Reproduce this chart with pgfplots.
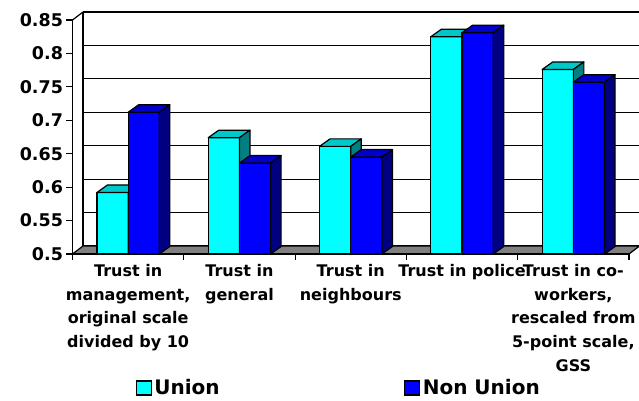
\documentclass[border=0pt]{standalone}
\usepackage{fontspec}
\setmainfont{DejaVu Sans}
\usepackage{pgfplots}
\usepackage{pgfplotstable}
\pgfplotsset{compat=1.18}

\definecolor{unionfront}{RGB}{0,255,255}
\definecolor{uniontop}{RGB}{0,200,200}
\definecolor{unionside}{RGB}{0,128,128}
\definecolor{nonfront}{RGB}{0,0,255}
\definecolor{nontop}{RGB}{0,0,200}
\definecolor{nonside}{RGB}{0,0,128}
\definecolor{floorgray}{RGB}{128,128,128}

% x = category, u = union, n = non union
\pgfplotstableread{
x u n
0 0.592 0.712
1 0.674 0.636
2 0.661 0.645
3 0.825 0.831
4 0.776 0.757
}\trust

\pgfdeclareplotmark{nothing}{}
\def\bbw{15.6pt}  % half bar width
\def\bdx{10.5pt}  % depth offset
\def\bdy{7.5pt}

% top and side faces of the columns, drawn at each bar top
\pgfplotsset{
  depth faces/.style n args={3}{
    only marks, mark=nothing, scatter, forget plot, point meta=y,
    visualization depends on={(\thisrow{#3}-0.5)*668.571 \as \hh},
    scatter/@pre marker code/.code={
      \filldraw[fill=#1, draw=black, line width=1.2pt, line join=round]
        (-\bbw,0pt) -- (\bbw,0pt) -- (\bbw+\bdx,\bdy) -- (-\bbw+\bdx,\bdy) -- cycle;
      \filldraw[fill=#2, draw=black, line width=1.2pt, line join=round]
        (\bbw,0pt) -- (\bbw+\bdx,\bdy) -- (\bbw+\bdx,{\bdy-\hh*1pt}) -- (\bbw,{-\hh*1pt}) -- cycle;
    },
    scatter/@post marker code/.code={},
  },
}

\begin{document}
\begin{tikzpicture}[x=1pt,y=1pt]
\useasboundingbox (0,0) rectangle (639,400);

% back wall with grid
\begin{axis}[
  at={(83pt,154pt)}, anchor=south west,
  scale only axis, width=556.5pt, height=234pt,
  xmin=-0.5, xmax=4.5, ymin=0.5, ymax=0.85,
  axis x line=none, axis y line=left, axis line style={-, line width=1.2pt},
  xtick=\empty, ytick={0.5,0.55,0.6,0.65,0.7,0.75,0.8,0.85}, yticklabels={},
  major tick length=0pt,
  ymajorgrids, grid style={black, line width=1.2pt},
]
\end{axis}

% floor and left edge
\filldraw[fill=floorgray, draw=black, line width=1.2pt, line join=round]
  (72.5,146) -- (629,146) -- (639.5,154) -- (83,154) -- cycle;
\draw[line width=1.2pt] (72.5,380) -- (83,388);

\begin{axis}[
  at={(72.5pt,146pt)}, anchor=south west,
  scale only axis, width=556.5pt, height=234pt,
  xmin=-0.5, xmax=4.5, ymin=0.5, ymax=0.85,
  clip marker paths=true,
  axis x line=bottom, axis y line=left, axis line style={-, line width=1.2pt},
  tick align=outside, major tick length=6pt, tick style={black, line width=1.2pt},
  xtick={-0.5,0.5,1.5,2.5,3.5,4.5}, xticklabels={},
  extra x ticks={0,1,2,3,4},
  extra x tick labels={{Trust in\\management,\\original scale\\divided by 10},
    {Trust in\\general}, {Trust in\\neighbours}, {Trust in police},
    {Trust in co-\\workers,\\rescaled from\\5-point scale,\\GSS}},
  extra x tick style={major tick length=0pt},
  xticklabel style={align=center, anchor=north, yshift=-7pt,
    font=\fontsize{16}{23.6}\selectfont\bfseries},
  ytick={0.5,0.55,0.6,0.65,0.7,0.75,0.8,0.85},
  yticklabels={0.5,0.55,0.6,0.65,0.7,0.75,0.8,0.85},
  yticklabel style={font=\fontsize{17.5}{20}\selectfont\bfseries},
  legend columns=2,
  legend style={at={(0.113,-0.5726)}, anchor=west, draw=none, fill=none,
    inner sep=0pt, font=\fontsize{20}{22}\selectfont\bfseries,
    nodes={inner sep=2.5pt},
    /tikz/every even column/.append style={column sep=182pt}},
  legend image code/.code={\filldraw[#1, line width=1.2pt] (0pt,-7pt) rectangle (15pt,7pt);},
]
\addplot[ybar, bar width=0.28, bar shift=-0.14, fill=unionfront, draw=black, line width=1.2pt]
  table[x=x, y=u] {\trust};
\addlegendentry{Union}
\addplot[depth faces={uniontop}{unionside}{u}] table[x expr=\thisrow{x}-0.14, y=u] {\trust};
\addplot[ybar, bar width=0.28, bar shift=0.14, fill=nonfront, draw=black, line width=1.2pt]
  table[x=x, y=n] {\trust};
\addlegendentry{Non Union}
\addplot[depth faces={nontop}{nonside}{n}] table[x expr=\thisrow{x}+0.14, y=n] {\trust};
\end{axis}
\end{tikzpicture}
\end{document}
